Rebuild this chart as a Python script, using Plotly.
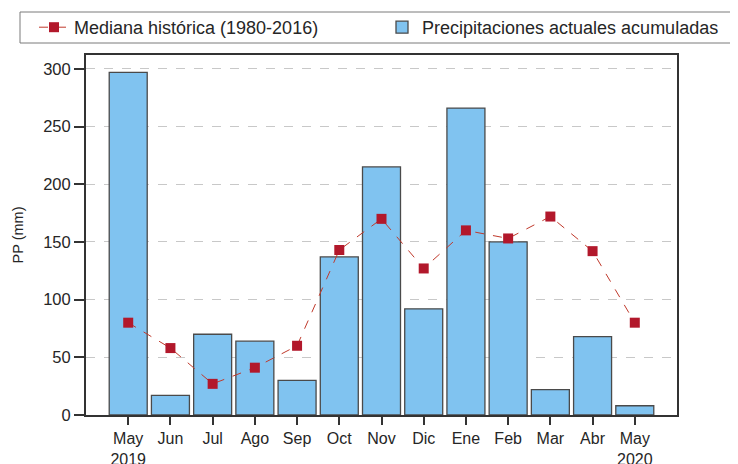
import plotly.graph_objects as go

meses = ["May<br>2019", "Jun", "Jul", "Ago", "Sep", "Oct", "Nov", "Dic", "Ene", "Feb", "Mar", "Abr", "May<br>2020"]
precip_actual = [297, 17, 70, 64, 30, 137, 215, 92, 266, 150, 22, 68, 8]
mediana_hist = [80, 58, 27, 41, 60, 143, 170, 127, 160, 153, 172, 142, 80]

xpos = list(range(len(meses)))

# page body adds an 8px margin; figure is sized to fit the window
W, H = 730, 456
L, T, PW, PH = 78, 47, 591, 360


def px_x(px):  # window pixel -> paper x
    return (px - 8 - L) / PW


def px_y(py):  # window pixel -> paper y
    return (T + PH + 8 - py) / PH


fig = go.Figure()
fig.add_trace(go.Scatter(
    x=xpos, y=mediana_hist, mode="lines+markers",
    name="Mediana histórica (1980-2016)",
    line=dict(color="#c0392b", width=1, dash="dash"),
    marker=dict(symbol="square", size=10, color="#b2182b"),
    legend="legend",
))
fig.add_trace(go.Bar(
    x=xpos, y=precip_actual, width=0.9,
    name="Precipitaciones actuales acumuladas",
    marker=dict(color="#80c3f0", line=dict(color="#4a4a4a", width=1.3)),
    legend="legend2",
))

leg_common = dict(
    orientation="h", yanchor="middle", xanchor="left",
    borderwidth=0, bgcolor="rgba(0,0,0,0)", font=dict(size=18),
)
fig.update_layout(
    width=W, height=H,
    margin=dict(l=L, r=W - L - PW, t=T, b=H - T - PH, autoexpand=False),
    plot_bgcolor="white", paper_bgcolor="white",
    font=dict(family="Liberation Sans, Arial, sans-serif", size=16, color="#262626"),
    legend=dict(x=px_x(34), y=px_y(27.5), **leg_common),
    legend2=dict(x=px_x(382), y=px_y(27.5), **leg_common),
    showlegend=True,
    shapes=[dict(
        type="rect", xref="paper", yref="paper",
        x0=px_x(20), x1=px_x(760), y0=px_y(43), y1=px_y(12),
        line=dict(color="#7a7a7a", width=1), fillcolor="rgba(0,0,0,0)", layer="above",
    )],
)
fig.update_xaxes(
    range=[-1, 13], tickmode="array", tickvals=xpos, ticktext=meses,
    showline=True, linecolor="#333333", linewidth=2, mirror=True,
    ticks="outside", ticklen=8, tickwidth=1.5, tickcolor="#333333",
    showgrid=False, zeroline=False, tickfont=dict(size=16),
)
fig.update_yaxes(
    range=[0, 312], tickvals=[0, 50, 100, 150, 200, 250, 300],
    showline=True, linecolor="#333333", linewidth=2, mirror=True,
    ticks="outside", ticklen=10, tickwidth=1.5, tickcolor="#333333",
    showgrid=True, gridcolor="#c8c8c8", griddash="dash", gridwidth=1,
    zeroline=False, title=dict(text="PP (mm)", standoff=16, font=dict(size=14.5)),
    tickfont=dict(size=16.5),
)

fig.write_html("out.html")
